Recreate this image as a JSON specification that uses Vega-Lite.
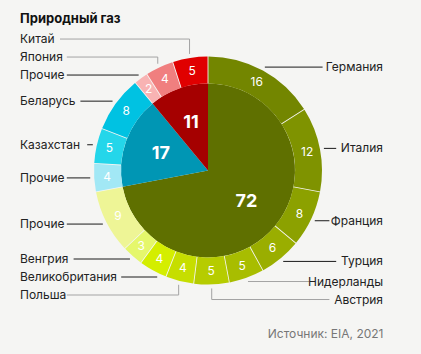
{
  "$schema": "https://vega.github.io/schema/vega-lite/v6.json",
  "width": 421,
  "height": 354,
  "autosize": "none",
  "padding": 0,
  "background": "#f5f5f3",
  "config": {"view": {"stroke": null}, "font": "Inter"},
  "title": {"text": "Природный газ", "anchor": "start", "frame": "group", "offset": 0, "dx": 20, "dy": 36, "fontSize": 13, "fontWeight": "bold", "color": "#111111", "baseline": "alphabetic", "font": "Inter"},
  "datasets": {
    "inner": [
      {"i": 0, "key": "Европа", "value": 72},
      {"i": 1, "key": "СНГ", "value": 17},
      {"i": 2, "key": "Азия", "value": 11}
    ],
    "outer": [
      {"i": 0, "key": "Германия", "name": "Германия", "value": 16},
      {"i": 1, "key": "Италия", "name": "Италия", "value": 12},
      {"i": 2, "key": "Франция", "name": "Франция", "value": 8},
      {"i": 3, "key": "Турция", "name": "Турция", "value": 6},
      {"i": 4, "key": "Нидерланды", "name": "Нидерланды", "value": 5},
      {"i": 5, "key": "Австрия", "name": "Австрия", "value": 5},
      {"i": 6, "key": "Польша", "name": "Польша", "value": 4},
      {"i": 7, "key": "Великобритания", "name": "Великобритания", "value": 4},
      {"i": 8, "key": "Венгрия", "name": "Венгрия", "value": 3},
      {"i": 9, "key": "Прочие (Европа)", "name": "Прочие", "value": 9},
      {"i": 10, "key": "Прочие (СНГ)", "name": "Прочие", "value": 4},
      {"i": 11, "key": "Казахстан", "name": "Казахстан", "value": 5},
      {"i": 12, "key": "Беларусь", "name": "Беларусь", "value": 8},
      {"i": 13, "key": "Прочие (Азия)", "name": "Прочие", "value": 2},
      {"i": 14, "key": "Япония", "name": "Япония", "value": 4},
      {"i": 15, "key": "Китай", "name": "Китай", "value": 5}
    ]
  },
  "layer": [
    {
      "data": {"name": "inner"},
      "mark": {"type": "arc", "outerRadius": 87, "innerRadius": 0},
      "encoding": {
        "x": {"datum": 0, "type": "quantitative", "scale": {"domain": [-208, 213], "nice": false, "zero": false}, "axis": {"title": "Источник: EIA, 2021", "domain": false, "ticks": false, "labels": false, "grid": false, "titleFont": "Inter", "titleFontSize": 12, "titleFontWeight": "normal", "titleColor": "#777777", "titleAnchor": "end", "titleAlign": "right", "titleX": 383, "titleY": -17, "titleBaseline": "alphabetic"}},
        "y": {"datum": 0, "type": "quantitative", "scale": {"domain": [-183.5, 170.5], "nice": false, "zero": false}, "axis": null},
        "theta": {"field": "value", "type": "quantitative", "stack": true},
        "order": {"field": "i"},
        "color": {"field": "key", "type": "nominal", "legend": null, "scale": {"domain": ["Европа", "СНГ", "Азия", "Германия", "Италия", "Франция", "Турция", "Нидерланды", "Австрия", "Польша", "Великобритания", "Венгрия", "Прочие (Европа)", "Прочие (СНГ)", "Казахстан", "Беларусь", "Прочие (Азия)", "Япония", "Китай"], "range": ["#5f7000", "#0096b4", "#a50000", "#738600", "#7f9300", "#8ca100", "#9aae00", "#a8bd00", "#b6cc00", "#c6de00", "#d4ee00", "#e5f76c", "#eef596", "#a2e8f5", "#24d6ea", "#00c2e2", "#f8b3b3", "#f07f7f", "#e00000"]}}
      }
    },
    {
      "data": {"name": "outer"},
      "mark": {"type": "arc", "outerRadius": 114, "innerRadius": 87, "padAngle": 0.006},
      "encoding": {
        "x": {"datum": 0, "type": "quantitative", "scale": {"domain": [-208, 213], "nice": false, "zero": false}, "axis": {"title": "Источник: EIA, 2021", "domain": false, "ticks": false, "labels": false, "grid": false, "titleFont": "Inter", "titleFontSize": 12, "titleFontWeight": "normal", "titleColor": "#777777", "titleAnchor": "end", "titleAlign": "right", "titleX": 383, "titleY": -17, "titleBaseline": "alphabetic"}},
        "y": {"datum": 0, "type": "quantitative", "scale": {"domain": [-183.5, 170.5], "nice": false, "zero": false}, "axis": null},
        "theta": {"field": "value", "type": "quantitative", "stack": true},
        "order": {"field": "i"},
        "color": {"field": "key", "type": "nominal", "legend": null, "scale": {"domain": ["Европа", "СНГ", "Азия", "Германия", "Италия", "Франция", "Турция", "Нидерланды", "Австрия", "Польша", "Великобритания", "Венгрия", "Прочие (Европа)", "Прочие (СНГ)", "Казахстан", "Беларусь", "Прочие (Азия)", "Япония", "Китай"], "range": ["#5f7000", "#0096b4", "#a50000", "#738600", "#7f9300", "#8ca100", "#9aae00", "#a8bd00", "#b6cc00", "#c6de00", "#d4ee00", "#e5f76c", "#eef596", "#a2e8f5", "#24d6ea", "#00c2e2", "#f8b3b3", "#f07f7f", "#e00000"]}}
      }
    },
    {
      "data": {"name": "inner"},
      "mark": {"type": "text", "radius": 50, "fontSize": 18, "fontWeight": "bold", "fill": "#ffffff", "align": "center", "baseline": "middle"},
      "encoding": {
        "x": {"datum": 0, "type": "quantitative", "scale": {"domain": [-208, 213], "nice": false, "zero": false}, "axis": {"title": "Источник: EIA, 2021", "domain": false, "ticks": false, "labels": false, "grid": false, "titleFont": "Inter", "titleFontSize": 12, "titleFontWeight": "normal", "titleColor": "#777777", "titleAnchor": "end", "titleAlign": "right", "titleX": 383, "titleY": -17, "titleBaseline": "alphabetic"}},
        "y": {"datum": 0, "type": "quantitative", "scale": {"domain": [-183.5, 170.5], "nice": false, "zero": false}, "axis": null},
        "theta": {"field": "value", "type": "quantitative", "stack": true},
        "order": {"field": "i"},
        "text": {"field": "value", "type": "quantitative"}
      }
    },
    {
      "data": {"name": "outer"},
      "mark": {"type": "text", "radius": 101, "fontSize": 12, "fill": "#ffffff", "align": "center", "baseline": "middle"},
      "encoding": {
        "x": {"datum": 0, "type": "quantitative", "scale": {"domain": [-208, 213], "nice": false, "zero": false}, "axis": {"title": "Источник: EIA, 2021", "domain": false, "ticks": false, "labels": false, "grid": false, "titleFont": "Inter", "titleFontSize": 12, "titleFontWeight": "normal", "titleColor": "#777777", "titleAnchor": "end", "titleAlign": "right", "titleX": 383, "titleY": -17, "titleBaseline": "alphabetic"}},
        "y": {"datum": 0, "type": "quantitative", "scale": {"domain": [-183.5, 170.5], "nice": false, "zero": false}, "axis": null},
        "theta": {"field": "value", "type": "quantitative", "stack": true},
        "order": {"field": "i"},
        "text": {"field": "value", "type": "quantitative"}
      }
    },
    {
      "data": {"name": "outer"},
      "transform": [
        {"window": [{"op": "sum", "field": "value", "as": "cum"}], "sort": [{"field": "i"}], "frame": [null, 0]},
        {"calculate": "2*PI*(datum.cum-datum.value/2)/100", "as": "ang"},
        {"calculate": "sin(datum.ang)<0?-1:1", "as": "side"},
        {"calculate": "118*sin(datum.ang)", "as": "ax"},
        {"calculate": "118*cos(datum.ang)", "as": "ay"},
        {"calculate": "datum.ay>=0?1:-1", "as": "half"},
        {"calculate": "abs(datum.ay)", "as": "d"},
        {"window": [{"op": "row_number", "as": "k"}], "groupby": ["side", "half"], "sort": [{"field": "d"}]},
        {"calculate": "datum.d-(datum.k-1)*18", "as": "b"},
        {"window": [{"op": "max", "field": "b", "as": "bmax"}], "groupby": ["side", "half"], "sort": [{"field": "d"}], "frame": [null, 0]},
        {"calculate": "datum.half*((datum.k-1)*18+datum.bmax)", "as": "ly"},
        {"calculate": "datum.side<0?-188:175", "as": "lx"},
        {"calculate": "abs(sin(datum.ang))<0.45", "as": "gray"},
        {"calculate": "datum.gray?datum.ax:datum.side*sqrt(max(0,118*118-datum.ly*datum.ly))", "as": "hx1"},
        {"calculate": "datum.lx-datum.side*(length(datum.name)*6.8+6)", "as": "hx2"}
      ],
      "layer": [
        {
          "mark": {"type": "rule", "strokeWidth": 1},
          "encoding": {
            "x": {"field": "hx1", "type": "quantitative", "scale": {"domain": [-208, 213], "nice": false, "zero": false}, "axis": {"title": "Источник: EIA, 2021", "domain": false, "ticks": false, "labels": false, "grid": false, "titleFont": "Inter", "titleFontSize": 12, "titleFontWeight": "normal", "titleColor": "#777777", "titleAnchor": "end", "titleAlign": "right", "titleX": 383, "titleY": -17, "titleBaseline": "alphabetic"}},
            "x2": {"field": "hx2"},
            "y": {"field": "ly", "type": "quantitative", "scale": {"domain": [-183.5, 170.5], "nice": false, "zero": false}, "axis": null},
            "color": {"condition": {"test": "datum.gray", "value": "#a3a3a3"}, "value": "#1a1a1a"}
          }
        },
        {
          "transform": [{"filter": "datum.gray"}],
          "mark": {"type": "rule", "strokeWidth": 1, "color": "#a3a3a3"},
          "encoding": {
            "x": {"field": "ax", "type": "quantitative", "scale": {"domain": [-208, 213], "nice": false, "zero": false}, "axis": {"title": "Источник: EIA, 2021", "domain": false, "ticks": false, "labels": false, "grid": false, "titleFont": "Inter", "titleFontSize": 12, "titleFontWeight": "normal", "titleColor": "#777777", "titleAnchor": "end", "titleAlign": "right", "titleX": 383, "titleY": -17, "titleBaseline": "alphabetic"}},
            "y": {"field": "ay", "type": "quantitative", "scale": {"domain": [-183.5, 170.5], "nice": false, "zero": false}, "axis": null},
            "y2": {"field": "ly"}
          }
        },
        {
          "transform": [{"filter": "datum.side < 0"}],
          "mark": {"type": "text", "align": "left", "baseline": "middle", "fontSize": 12, "fill": "#222222"},
          "encoding": {
            "x": {"field": "lx", "type": "quantitative", "scale": {"domain": [-208, 213], "nice": false, "zero": false}, "axis": {"title": "Источник: EIA, 2021", "domain": false, "ticks": false, "labels": false, "grid": false, "titleFont": "Inter", "titleFontSize": 12, "titleFontWeight": "normal", "titleColor": "#777777", "titleAnchor": "end", "titleAlign": "right", "titleX": 383, "titleY": -17, "titleBaseline": "alphabetic"}},
            "y": {"field": "ly", "type": "quantitative", "scale": {"domain": [-183.5, 170.5], "nice": false, "zero": false}, "axis": null},
            "text": {"field": "name", "type": "nominal"}
          }
        },
        {
          "transform": [{"filter": "datum.side > 0"}],
          "mark": {"type": "text", "align": "right", "baseline": "middle", "fontSize": 12, "fill": "#222222"},
          "encoding": {
            "x": {"field": "lx", "type": "quantitative", "scale": {"domain": [-208, 213], "nice": false, "zero": false}, "axis": {"title": "Источник: EIA, 2021", "domain": false, "ticks": false, "labels": false, "grid": false, "titleFont": "Inter", "titleFontSize": 12, "titleFontWeight": "normal", "titleColor": "#777777", "titleAnchor": "end", "titleAlign": "right", "titleX": 383, "titleY": -17, "titleBaseline": "alphabetic"}},
            "y": {"field": "ly", "type": "quantitative", "scale": {"domain": [-183.5, 170.5], "nice": false, "zero": false}, "axis": null},
            "text": {"field": "name", "type": "nominal"}
          }
        }
      ]
    }
  ]
}
